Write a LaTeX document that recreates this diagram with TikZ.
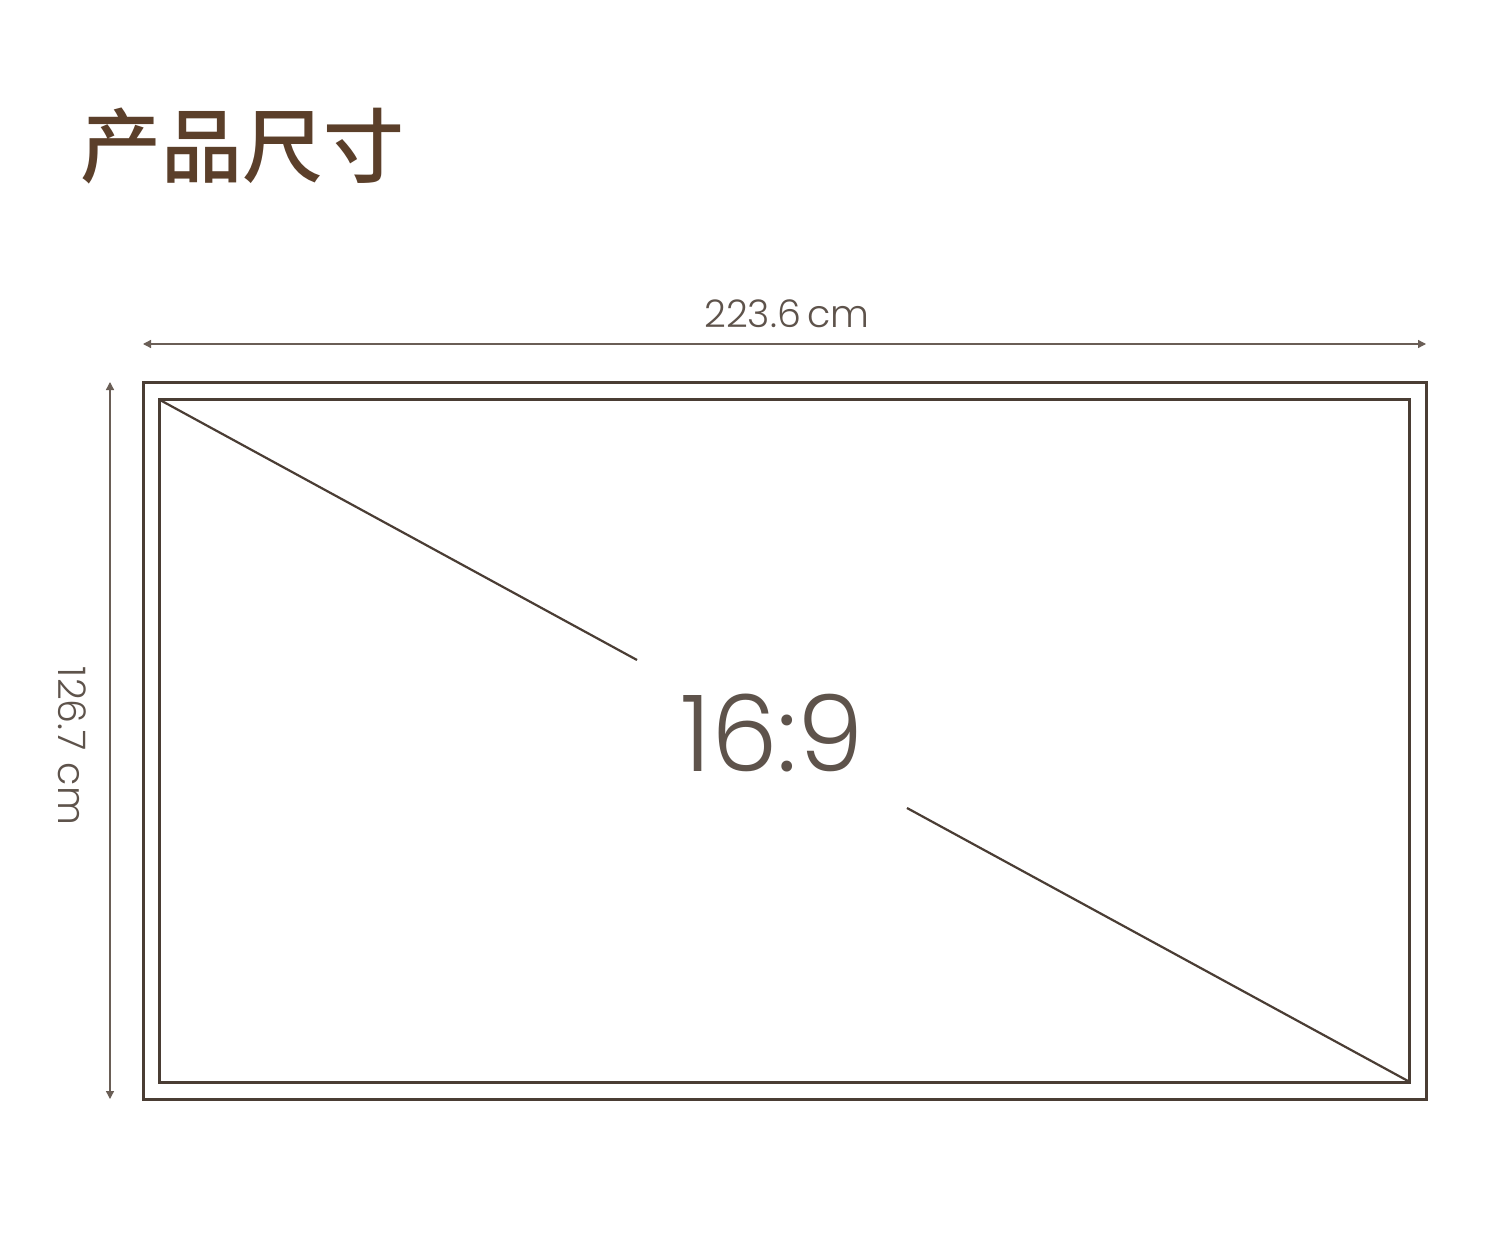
\documentclass[tikz,border=0pt]{standalone}
\usepackage{fontspec}
\setmainfont{Poppins}
\newfontfamily\cjk{Noto Sans CJK SC}[UprightFont={* Medium}]
\newfontfamily\thin{Poppins Light}
\usetikzlibrary{arrows.meta}
\definecolor{titlec}{HTML}{5B3F2A}
\definecolor{framec}{HTML}{4A3D34}
\definecolor{dimc}{HTML}{6A5E56}
\definecolor{txtc}{HTML}{5E534B}
\tikzset{
  frame/.style={draw=framec, line width=3pt},
  dimline/.style={draw=dimc, line width=1.3pt, {Triangle[length=8pt,width=8pt]}-{Triangle[length=8pt,width=8pt]}},
  diag/.style={draw=framec, line width=2.2pt},
  dimtxt/.style={text=txtc, font=\thin\fontsize{38}{46}\selectfont, inner sep=0pt},
}
\begin{document}
\begin{tikzpicture}[x=1pt,y=-1pt]
\useasboundingbox[fill=white] (0,0) rectangle (1496,1241);
\node[anchor=west, inner sep=0pt, text=titlec, font=\cjk\fontsize{81}{90}\selectfont] (title) at (80,146) {产品尺寸};
\coordinate (hl) at (143,344);
\coordinate (hr) at (1426,344);
\draw[dimline] (hl) -- (hr);
\node[dimtxt] (wtxt) at (787,314) {223.6\,cm};
\coordinate (vt) at (110,382);
\coordinate (vb) at (110,1099);
\draw[dimline] (vt) -- (vb);
\node[dimtxt, rotate=-90] (htxt) at (72,746) {126.7\hspace{12pt}cm};
\draw[frame] (143,382) rectangle (1426,1099);
\draw[frame] (159,399) rectangle (1409,1082);
\coordinate (d1) at (160,400);
\coordinate (d2) at (1408,1081);
\coordinate (g1) at (637,660);
\coordinate (g2) at (907,808);
\draw[diag] (d1) -- (g1);
\draw[diag] (g2) -- (d2);
\node[text=txtc, font=\thin\fontsize{106}{120}\selectfont, inner sep=0pt] (ratio) at (772,733) {16:9};
\end{tikzpicture}
\end{document}
